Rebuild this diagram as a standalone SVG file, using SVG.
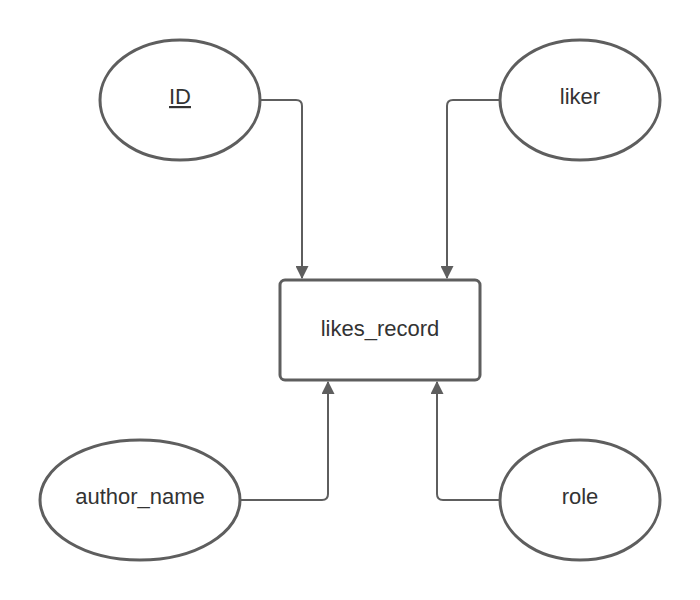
<svg xmlns="http://www.w3.org/2000/svg" width="700" height="600" viewBox="0 0 700 600">
<style>
.shape{fill:#ffffff;stroke:#5e5e5e;stroke-width:3}
.lbl{font-family:"Liberation Sans",Arial,sans-serif;font-size:22px;fill:#333333;text-anchor:middle}
.conn{fill:none;stroke:#5e5e5e;stroke-width:2}
</style>
<defs>
<marker id="arr" viewBox="0 0 12 12" refX="11" refY="6" markerWidth="13" markerHeight="13" markerUnits="userSpaceOnUse" orient="auto">
<path d="M0,0 L12,6 L0,12 Z" fill="#5e5e5e"/>
</marker>
</defs>
<rect width="700" height="600" fill="#ffffff"/>
<g id="connectors">
<path class="conn" d="M260,100 H296 Q302,100 302,106 V278" marker-end="url(#arr)"/>
<path class="conn" d="M500,100 H453 Q447,100 447,106 V278" marker-end="url(#arr)"/>
<path class="conn" d="M240,500 H322 Q328,500 328,494 V382" marker-end="url(#arr)"/>
<path class="conn" d="M500,500 H443 Q437,500 437,494 V382" marker-end="url(#arr)"/>
</g>
<g id="likes_record">
<rect class="shape" x="280" y="280" width="200" height="100" rx="5"/>
<text class="lbl" x="380" y="336">likes_record</text>
</g>
<g id="ID">
<ellipse class="shape" cx="180" cy="100" rx="80" ry="60"/>
<text class="lbl" x="180" y="104" text-decoration="underline">ID</text>
</g>
<g id="liker">
<ellipse class="shape" cx="580" cy="100" rx="80" ry="60"/>
<text class="lbl" x="580" y="104">liker</text>
</g>
<g id="author_name">
<ellipse class="shape" cx="140" cy="500" rx="100" ry="60"/>
<text class="lbl" x="140" y="504">author_name</text>
</g>
<g id="role">
<ellipse class="shape" cx="580" cy="500" rx="80" ry="60"/>
<text class="lbl" x="580" y="504">role</text>
</g>
</svg>
